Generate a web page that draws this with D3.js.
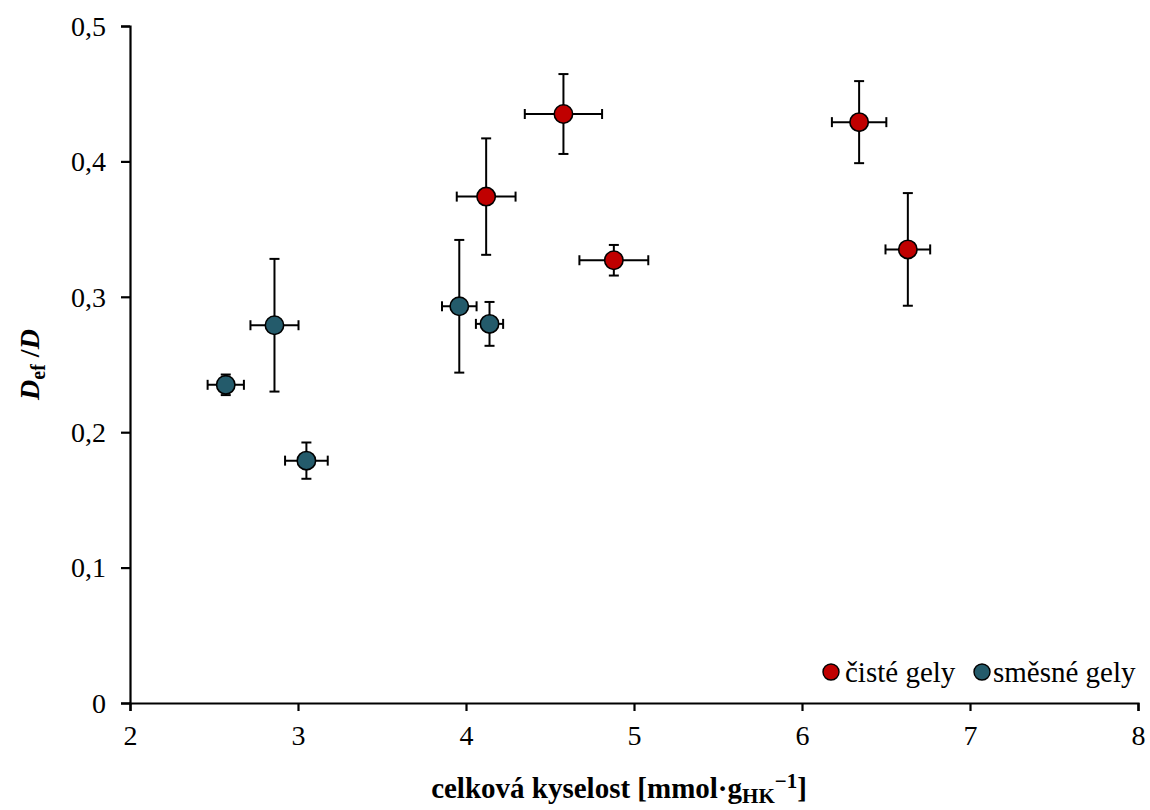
<!DOCTYPE html>
<html>
<head>
<meta charset="utf-8">
<script src="https://cdn.jsdelivr.net/npm/d3@7"></script>
<style>
  html, body { margin: 0; padding: 0; background: #fff; }
  svg { display: block; }
  svg text { font-family: "Liberation Serif", "Times New Roman", serif !important; }
</style>
</head>
<body>
<svg id="chart" width="1150" height="810"></svg>
<script>
// Pure gels (čisté gely)
const pureX    = [4.12, 4.58, 4.88, 6.34, 6.63];
const pureY    = [0.374, 0.435, 0.327, 0.429, 0.335];
const pureXErr = [0.175, 0.23, 0.205, 0.162, 0.133];
const pureYErr = [0.043, 0.0295, 0.0113, 0.0303, 0.0416];

// Mixed gels (směsné gely)
const mixX    = [2.86, 2.57, 3.05, 3.96, 4.14];
const mixY    = [0.279, 0.235, 0.179, 0.293, 0.280];
const mixXErr = [0.143, 0.108, 0.127, 0.103, 0.081];
const mixYErr = [0.049, 0.0076, 0.0134, 0.049, 0.0162];

const xTicks = [2, 3, 4, 5, 6, 7, 8];
const yTicks = [0, 0.1, 0.2, 0.3, 0.4, 0.5];

const seriesNames  = ["čisté gely", "směsné gely"];
const seriesColors = ["#C00000", "#245B6B"];

const series = [
  { name: seriesNames[0], color: seriesColors[0],
    pts: pureX.map((x, i) => ({ x, y: pureY[i], ex: pureXErr[i], ey: pureYErr[i] })) },
  { name: seriesNames[1], color: seriesColors[1],
    pts: mixX.map((x, i) => ({ x, y: mixY[i], ex: mixXErr[i], ey: mixYErr[i] })) }
];

const FONT = "Liberation Serif";
const svg = d3.select("#chart");
const plotL = 130, plotR = 1138, plotT = 26, plotB = 703;

const x = d3.scaleLinear().domain([2, 8]).range([plotL, plotR]);
const y = d3.scaleLinear().domain([0, 0.5]).range([plotB, plotT]);
const fmt = d => d === 0 ? "0" : d3.format(".1f")(d).replace(".", ",");

// Axes
const xAxis = svg.append("g")
  .attr("transform", `translate(0,${plotB})`)
  .call(d3.axisBottom(x).tickValues(xTicks).tickFormat(d3.format("d")).tickSize(8).tickPadding(9));
const yAxis = svg.append("g")
  .attr("transform", `translate(${plotL},0)`)
  .call(d3.axisLeft(y).tickValues(yTicks).tickFormat(fmt).tickSize(9).tickPadding(15));

[xAxis, yAxis].forEach(a => {
  a.attr("font-family", FONT).attr("font-size", 28);
  a.select(".domain").attr("stroke", "#000").attr("stroke-width", 2.2);
  a.selectAll(".tick line").attr("stroke", "#000").attr("stroke-width", 2.2);
  a.selectAll(".tick text").attr("fill", "#000");
});
xAxis.selectAll(".tick text").attr("dy", "0.88em");
yAxis.selectAll(".tick text").attr("dy", "0.33em");

// Error bars and markers
const cap = 5;
series.forEach(s => {
  const g = svg.append("g");
  const eb = g.selectAll("g.err").data(s.pts).enter().append("g")
    .attr("stroke", "#000").attr("stroke-width", 2).attr("fill", "none");
  // vertical bars
  eb.append("line")
    .attr("x1", d => x(d.x)).attr("x2", d => x(d.x))
    .attr("y1", d => y(d.y - d.ey)).attr("y2", d => y(d.y + d.ey));
  eb.append("line")
    .attr("x1", d => x(d.x) - cap).attr("x2", d => x(d.x) + cap)
    .attr("y1", d => y(d.y + d.ey)).attr("y2", d => y(d.y + d.ey));
  eb.append("line")
    .attr("x1", d => x(d.x) - cap).attr("x2", d => x(d.x) + cap)
    .attr("y1", d => y(d.y - d.ey)).attr("y2", d => y(d.y - d.ey));
  // horizontal bars
  eb.append("line")
    .attr("x1", d => x(d.x - d.ex)).attr("x2", d => x(d.x + d.ex))
    .attr("y1", d => y(d.y)).attr("y2", d => y(d.y));
  eb.append("line")
    .attr("x1", d => x(d.x - d.ex)).attr("x2", d => x(d.x - d.ex))
    .attr("y1", d => y(d.y) - cap).attr("y2", d => y(d.y) + cap);
  eb.append("line")
    .attr("x1", d => x(d.x + d.ex)).attr("x2", d => x(d.x + d.ex))
    .attr("y1", d => y(d.y) - cap).attr("y2", d => y(d.y) + cap);

  g.selectAll("circle").data(s.pts).enter().append("circle")
    .attr("cx", d => x(d.x)).attr("cy", d => y(d.y)).attr("r", 9.2)
    .attr("fill", s.color).attr("stroke", "#000").attr("stroke-width", 1.6);
});

// Legend
const legend = svg.append("g").attr("font-family", FONT).attr("font-size", 29);
const legendPos = [{ cx: 831, tx: 845 }, { cx: 982, tx: 993 }];
series.forEach((s, i) => {
  legend.append("circle")
    .attr("cx", legendPos[i].cx).attr("cy", 672).attr("r", 8)
    .attr("fill", s.color).attr("stroke", "#000").attr("stroke-width", 1.4);
  legend.append("text")
    .attr("x", legendPos[i].tx).attr("y", 682)
    .attr("fill", "#000").text(s.name);
});

// X axis title
const xt = svg.append("text")
  .attr("x", (plotL + plotR) / 2 - 15).attr("y", 798)
  .attr("text-anchor", "middle")
  .attr("font-family", FONT).attr("font-weight", "bold").attr("font-size", 29).attr("fill", "#000");
xt.append("tspan").text("celková kyselost [mmol·g");
xt.append("tspan").attr("dy", 5).attr("font-size", 21).text("HK");
xt.append("tspan").attr("dy", -15).attr("font-size", 21).text("−1");
xt.append("tspan").attr("dy", 10).text("]");

// Y axis title
const yt = svg.append("text")
  .attr("transform", `translate(39,${(plotT + plotB) / 2}) rotate(-90)`)
  .attr("text-anchor", "middle")
  .attr("font-family", FONT).attr("font-weight", "bold").attr("font-size", 28).attr("fill", "#000");
yt.append("tspan").attr("font-style", "italic").text("D");
yt.append("tspan").attr("dy", 6).attr("font-size", 20).text("ef");
yt.append("tspan").attr("dy", -6).text(" /");
yt.append("tspan").attr("font-style", "italic").text("D");
</script>
</body>
</html>
